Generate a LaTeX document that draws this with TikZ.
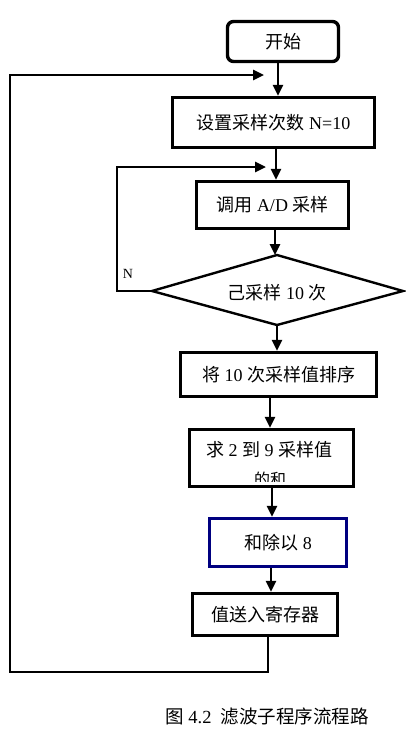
\documentclass[tikz,border=0pt]{standalone}
\usepackage{fontspec}
\setmainfont{Liberation Serif}
\newfontfamily\cjk{Noto Sans CJK SC}
\usetikzlibrary{arrows.meta}
\definecolor{navyblue}{RGB}{0,0,128}
\begin{document}
\begin{tikzpicture}[x=1pt,y=-1pt,
  box/.style={draw,line width=3.4pt,inner sep=0pt,font=\fontsize{18}{21}\selectfont},
  txt/.style={inner sep=0pt,font=\fontsize{18}{21}\selectfont},
  conn/.style={line width=2.6pt},
  arr/.style={line width=2.6pt,-{Triangle[length=11pt,width=10pt]}}]
\useasboundingbox (0,0) rectangle (405,731);
% nodes
\node[box,rounded corners=6pt,minimum width=111pt,minimum height=40pt] (start) at (283,41.5) {\cjk 开始};
\node[box,minimum width=202pt,minimum height=50pt] (set) at (273.5,122.5) {{\cjk 设置采样次数} N=10};
\node[box,minimum width=152pt,minimum height=47pt] (call) at (272.5,205) {{\cjk 调用} A/D {\cjk 采样}};
\coordinate (dtop) at (277,255);
\coordinate (dleft) at (152,291);
\coordinate (dright) at (403,291);
\coordinate (dbot) at (277,325);
\draw[line width=2.4pt,line join=miter] (dtop) -- (dright) -- (dbot) -- (dleft) -- cycle;
\node[txt] (dec) at (277,293) {{\cjk 己采样} 10 {\cjk 次}};
\node[box,minimum width=196pt,minimum height=44pt] (sort) at (278.5,374.5) {{\cjk 将} 10 {\cjk 次采样值排序}};
\node[box,minimum width=164pt,minimum height=57pt] (sum) at (271.5,458) {};
\begin{scope}
  \clip (190,430) rectangle (353,481);
  \node[txt] (sumt1) at (269,450) {{\cjk 求} 2 {\cjk 到} 9 {\cjk 采样值}};
  \node[txt,font=\fontsize{16}{19}\selectfont] (sumt2) at (270,479) {\cjk 的和};
\end{scope}
\node[box,draw=navyblue,minimum width=137pt,minimum height=48pt] (div) at (278,542.5) {{\cjk 和除以} 8};
\node[box,minimum width=145pt,minimum height=42pt] (store) at (265,614.5) {\cjk 值送入寄存器};
\node[txt,font=\fontsize{14}{16}\selectfont] (nlab) at (128,274) {N};
\node[txt,font=\fontsize{18.5}{21}\selectfont] (cap) at (267,716) {{\cjk 图} 4.2\ \ {\cjk 滤波子程序流程路}};
% helper x positions
\coordinate (x1) at (278,0);
\coordinate (x2) at (276,0);
\coordinate (x3) at (275,0);
\coordinate (x4) at (277,0);
\coordinate (x5) at (270,0);
\coordinate (x6) at (272,0);
\coordinate (x7) at (271,0);
\coordinate (x8) at (268,0);
\coordinate (outerTop) at (264,75);
\coordinate (outerL) at (10,672);
\coordinate (innerTop) at (266,167);
\coordinate (innerL) at (117,291);
% connectors
\draw[arr] (start.south -| x1) -- (set.north -| x1);
\draw[arr] (set.south -| x2) -- (call.north -| x2);
\draw[arr] (call.south -| x3) -- (dtop -| x3);
\draw[arr] (dbot -| x4) -- (sort.north -| x4);
\draw[arr] (sort.south -| x5) -- (sum.north -| x5);
\draw[arr] (sum.south -| x6) -- (div.north -| x6);
\draw[arr] (div.south -| x7) -- (store.north -| x7);
\draw[arr] (store.south -| x8) |- (outerL) |- (outerTop);
\draw[arr] (dleft) -- (innerL) |- (innerTop);
\end{tikzpicture}
\end{document}
